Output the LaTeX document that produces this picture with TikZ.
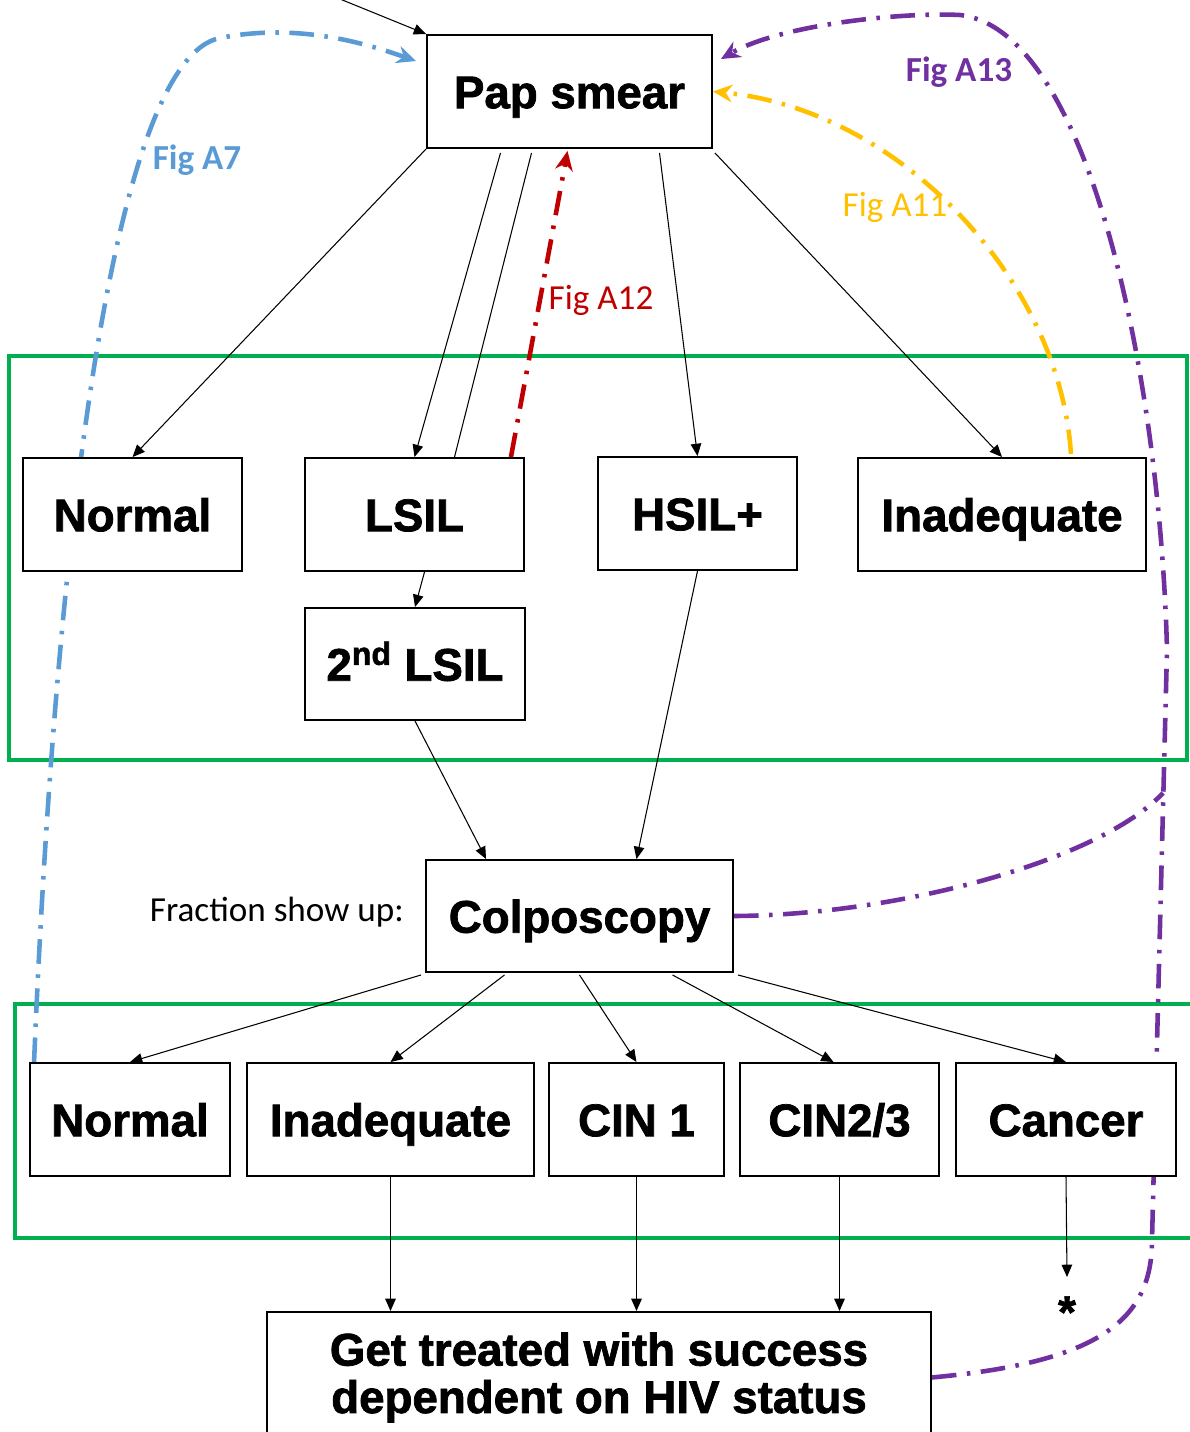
\documentclass[tikz,border=0pt]{standalone}
\usepackage{fontspec}
\setmainfont{Liberation Sans}
\newfontfamily\calib{Carlito}
\newfontfamily\heavy[FakeBold=1.6]{Liberation Sans Bold}
\usetikzlibrary{arrows.meta,calc,backgrounds}
\definecolor{figblue}{HTML}{5B9BD5}
\definecolor{figgold}{HTML}{FFC000}
\definecolor{figred}{HTML}{C00000}
\definecolor{figpurple}{HTML}{7030A0}
\definecolor{framegreen}{HTML}{00B050}

\begin{document}
\begin{tikzpicture}[x=0.02cm,y=-0.02cm,
  box/.style={draw,line width=1.1pt,fill=white,minimum height=2.26cm,
              inner sep=0pt,font=\heavy\fontsize{26}{30}\selectfont,
              text height=19pt,text depth=0pt},
  arr/.style={-{Triangle[length=7pt,width=6pt]},line width=0.6pt},
  figline/.style={line width=2.6pt,dash pattern=on 14pt off 6pt on 2pt off 6pt},
  figpath/.style={figline,-{Stealth[length=11pt,width=10pt]}},
  grp/.style={draw=framegreen,line width=2.4pt},
  lbl/.style={font=\calib\fontsize{20}{24}\selectfont}
]
\useasboundingbox (0,0) rectangle (1189,1432);

% screening result boxes
\node[box,minimum width=5.7cm]  (pap)   at (569.5,91.5)  {Pap smear};
\node[box,minimum width=4.38cm] (norm1) at (132.5,514.5) {Normal};
\node[box,minimum width=4.38cm] (lsil)  at (414.5,514.5) {LSIL};
\node[box,minimum width=3.98cm] (hsil)  at (697.5,513.5) {HSIL+};
\node[box,minimum width=5.76cm] (inad1) at (1002,514.5)  {Inadequate};
\node[box,minimum width=4.4cm,minimum height=2.24cm] (lsil2) at (415,664) {2\textsuperscript{nd} LSIL};

% colposcopy and its outcomes
\node[box,minimum width=6.14cm,minimum height=2.24cm] (colpo) at (579.5,916) {Colposcopy};
\node[lbl,anchor=east] (frac) at (410,912) {Fraction show up:};
\node[box,minimum width=4.0cm]  (norm2)  at (130,1119.5)   {Normal};
\node[box,minimum width=5.74cm] (inad2)  at (390.5,1119.5) {Inadequate};
\node[box,minimum width=3.5cm]  (cin1)   at (636.5,1119.5) {CIN 1};
\node[box,minimum width=3.98cm] (cin2)   at (839.5,1119.5) {CIN2/3};
\node[box,minimum width=4.4cm]  (cancer) at (1066,1119.5)  {Cancer};
\node[draw,line width=1.1pt,fill=white,anchor=north,minimum width=13.28cm,
      minimum height=2.62cm,align=center,
      font=\heavy\fontsize{26}{27}\selectfont] (treat) at (599,1311)
      {Get treated with success\\dependent on HIV status};
\node[font=\heavy\fontsize{26}{30}\selectfont,inner sep=0pt,anchor=north] (star) at (1067,1296) {*};
\coordinate (topin) at (335,-3);

% labels of the loops
\node[lbl,text=figblue]   (la7)  at (197,160) {\bfseries Fig A7};
\node[lbl,text=figgold]   (la11) at (895,207) {Fig A11};
\node[lbl,text=figred]    (la12) at (601,300) {Fig A12};
\node[lbl,text=figpurple] (la13) at (959,72)  {\bfseries Fig A13};

\begin{scope}[on background layer]
\draw[grp] (9,356) rectangle (1187,760);
\draw[grp] (15,1004) rectangle (1200,1238);
\draw[figpath,figblue] ($(norm2.north west)+(5,0)$) .. controls (55,560) and (110,60) .. (220,38)
  .. controls (300,22) and (370,45) .. ($(pap.north west)+(-10,27)$);
\draw[figpath,figgold] ($(inad1.north east)+(-76,-3)$) .. controls (1060,280) and (900,110) .. (pap.east);
\draw[figpath,figred] ($(lsil.north east)+(-14,0)$) -- ($(pap.south)+(-2,2)$);
\draw[figpath,figpurple] (treat.east) .. controls (1100,1362) and (1152,1320) .. (1152,1240)
  -- (1167,650) .. controls (1160,380) and (1090,30) .. (960,15)
  .. controls (900,12) and (780,25) .. ($(pap.north east)+(8,25)$);
\draw[figline,figpurple] (colpo.east) .. controls (900,915) and (1100,860) .. (1163,793);
\end{scope}

% pap smear results
\draw[arr] (topin) -- (pap.north west);
\draw[arr] (pap.south west) -- (norm1.north);
\draw[arr] ($(pap.south)+(-69,4)$) -- (lsil.north);
\draw[line width=0.6pt] ($(lsil.north)+(40,0)$) -- ($(pap.south)+(-38,4)$);
\draw[arr] ($(pap.south)+(90,4)$) -- (hsil.north);
\draw[arr] ($(pap.south east)+(2,4)$) -- (inad1.north);
\draw[arr] ($(lsil.south)+(10,0)$) -- (lsil2.north);
\draw[arr] (lsil2.south) -- ($(colpo.north west)+(61,0)$);
\draw[arr] (hsil.south) -- ($(colpo.north)+(57,0)$);

% colposcopy results
\draw[arr] ($(colpo.south west)+(-4,2)$) -- (norm2.north);
\draw[arr] ($(colpo.south)+(-75,2)$) -- (inad2.north);
\draw[arr] ($(colpo.south)+(0,2)$) -- (cin1.north);
\draw[arr] ($(colpo.south)+(93,2)$) -- ($(cin2.north)+(-6,0)$);
\draw[arr] ($(colpo.south east)+(4,2)$) -- (cancer.north);
\foreach \b in {inad2,cin1,cin2}
  \draw[arr] (\b.south) -- (\b.south |- treat.north);
\draw[arr] (cancer.south) -- ($(star.north)+(0,-19)$);
\end{tikzpicture}
\end{document}
